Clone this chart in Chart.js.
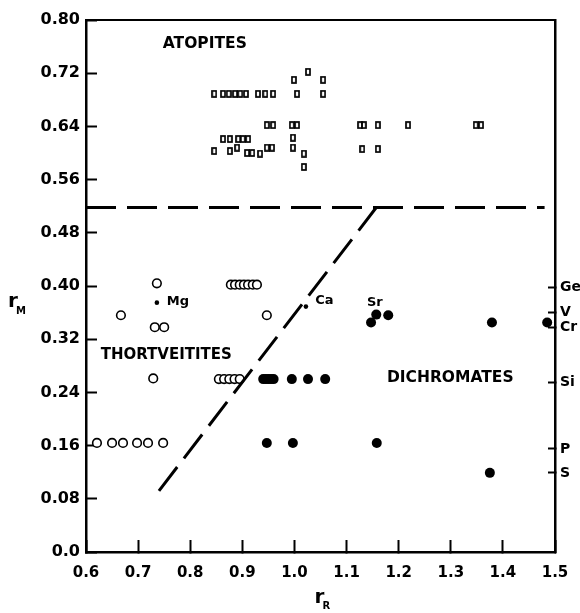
<!DOCTYPE html>
<html>
<head>
<meta charset="utf-8">
<script src="https://cdn.jsdelivr.net/npm/chart.js@4"></script>
<style>
  html, body { margin: 0; padding: 0; background: #fff; }
</style>
</head>
<body>
<canvas id="myChart" width="580" height="613"></canvas>
<script>
// tick labels
const xTickValues = [0.6, 0.7, 0.8, 0.9, 1.0, 1.1, 1.2, 1.3, 1.4, 1.5];
const xTickLabels = ['0.6', '0.7', '0.8', '0.9', '1.0', '1.1', '1.2', '1.3', '1.4', '1.5'];
const yTickValues = [0, 0.08, 0.16, 0.24, 0.32, 0.40, 0.48, 0.56, 0.64, 0.72, 0.80];
const yTickLabels = ['0.0', '0.08', '0.16', '0.24', '0.32', '0.40', '0.48', '0.56', '0.64', '0.72', '0.80'];
// cation radii marked on the right axis
const ionValues = [0.398, 0.360, 0.338, 0.255, 0.155, 0.119];
const ionLabels = ['Ge', 'V', 'Cr', 'Si', 'P', 'S'];

// atopites (squares)
const atopiteR = [1.026, 0.999, 1.055,
    0.846, 0.863, 0.874, 0.886, 0.896, 0.907, 0.930, 0.944, 0.959, 1.005, 1.055,
    0.947, 0.959, 0.995, 1.005, 1.126, 1.133, 1.160, 1.218, 1.348, 1.358,
    0.863, 0.876, 0.892, 0.901, 0.911, 0.997,
    0.846, 0.876, 0.890, 0.909, 0.919, 0.934, 0.947, 0.957, 0.997, 1.018, 1.018, 1.130, 1.160];
const atopiteM = [0.722, 0.710, 0.710,
    0.689, 0.689, 0.689, 0.689, 0.689, 0.689, 0.689, 0.689, 0.689, 0.689, 0.689,
    0.642, 0.642, 0.642, 0.642, 0.642, 0.642, 0.642, 0.642, 0.642, 0.642,
    0.621, 0.621, 0.621, 0.621, 0.621, 0.623,
    0.603, 0.603, 0.608, 0.600, 0.600, 0.599, 0.608, 0.608, 0.608, 0.599, 0.579, 0.606, 0.606];

// thortveitites (open circles)
const thortR = [0.736, 0.667, 0.732, 0.750, 0.947,
    0.878, 0.886, 0.895, 0.903, 0.911, 0.920, 0.928,
    0.729, 0.855, 0.865, 0.875, 0.885, 0.895,
    0.621, 0.650, 0.671, 0.698, 0.719, 0.748];
const thortM = [0.404, 0.356, 0.338, 0.338, 0.356,
    0.402, 0.402, 0.402, 0.402, 0.402, 0.402, 0.402,
    0.261, 0.260, 0.260, 0.260, 0.260, 0.260,
    0.164, 0.164, 0.164, 0.164, 0.164, 0.164];

// dichromates (filled circles)
const dichroR = [0.940, 0.945, 0.950, 0.955, 0.960, 0.995, 1.026, 1.059,
    0.947, 0.997, 1.158, 1.375, 1.147, 1.157, 1.180, 1.379, 1.485];
const dichroM = [0.260, 0.260, 0.260, 0.260, 0.260, 0.260, 0.260, 0.260,
    0.164, 0.164, 0.164, 0.119, 0.345, 0.357, 0.356, 0.345, 0.345];

// Mg and Ca dots
const dotR = [0.736, 1.022];
const dotM = [0.375, 0.369];

// field boundaries
const flatR = [0.6, 1.48];
const flatM = [0.518, 0.518];
const slopeR = [0.740, 1.157];
const slopeM = [0.092, 0.518];

// text on the plot
const regionNames = ['ATOPITES', 'THORTVEITITES', 'DICHROMATES'];
const regionR = [0.828, 0.754, 1.299];
const regionM = [0.764, 0.296, 0.261];
const regionSize = [15.5, 15, 15.5];
const cationNames = ['Mg', 'Ca', 'Sr'];
const cationR = [0.755, 1.040, 1.139];
const cationM = [0.377, 0.378, 0.375];

const pairs = (xs, ys) => xs.map((x, i) => ({x: x, y: ys[i]}));

// tall little square used for the atopites
const sq = document.createElement('canvas');
sq.width = 6;
sq.height = 8;
const sqc = sq.getContext('2d');
sqc.lineWidth = 1.7;
sqc.strokeStyle = '#000';
sqc.strokeRect(1, 1, 4, 6);

Chart.defaults.font.family = 'DejaVu Sans';
Chart.defaults.color = '#000';

// keep the tick label padding from pushing the plot area inwards
const noPad = s => { s.paddingTop = 0; s.paddingBottom = 0; s.paddingLeft = 0; s.paddingRight = 0; };

const textPlugin = {
    id: 'plotText',
    afterDatasetsDraw(chart) {
        const ctx = chart.ctx;
        const xs = chart.scales.x, ys = chart.scales.y;
        ctx.save();
        ctx.fillStyle = '#000';
        ctx.textBaseline = 'middle';
        ctx.textAlign = 'center';
        regionNames.forEach((t, i) => {
            ctx.font = 'bold ' + regionSize[i] + 'px "DejaVu Sans"';
            ctx.fillText(t, xs.getPixelForValue(regionR[i]), ys.getPixelForValue(regionM[i]));
        });
        ctx.textAlign = 'left';
        ctx.font = 'bold 13px "DejaVu Sans"';
        cationNames.forEach((t, i) => {
            ctx.fillText(t, xs.getPixelForValue(cationR[i]), ys.getPixelForValue(cationM[i]));
        });
        // axis titles r_M and r_R
        const a = chart.chartArea;
        ctx.textBaseline = 'alphabetic';
        ctx.font = 'bold 20px "DejaVu Sans"';
        ctx.fillText('r', 8, 307);
        ctx.fillText('r', (a.left + a.right) / 2 - 6, 603);
        ctx.font = 'bold 10px "DejaVu Sans"';
        ctx.fillText('M', 16, 314);
        ctx.fillText('R', (a.left + a.right) / 2 + 2, 609);
        ctx.restore();
    }
};

const lineStyle = {
    showLine: true, borderColor: '#000', borderWidth: 3, borderDash: [30, 11],
    pointRadius: 0, fill: false, xAxisID: 'x', yAxisID: 'y'
};

const data = {
    datasets: [
        Object.assign({label: 'boundary', data: pairs(flatR, flatM)}, lineStyle),
        Object.assign({label: 'boundary 2', data: pairs(slopeR, slopeM)}, lineStyle),
        {
            label: 'Atopites', data: pairs(atopiteR, atopiteM), pointStyle: sq,
            xAxisID: 'x', yAxisID: 'y'
        },
        {
            label: 'Thortveitites', data: pairs(thortR, thortM), pointStyle: 'circle',
            pointRadius: 4.3, backgroundColor: '#fff', borderColor: '#000', borderWidth: 1.6,
            xAxisID: 'x', yAxisID: 'y'
        },
        {
            label: 'Dichromates', data: pairs(dichroR, dichroM), pointStyle: 'circle',
            pointRadius: 5, backgroundColor: '#000', borderColor: '#000', borderWidth: 0,
            xAxisID: 'x', yAxisID: 'y'
        },
        {
            label: 'Mg, Ca', data: pairs(dotR, dotM), pointStyle: 'circle',
            pointRadius: 2.3, backgroundColor: '#000', borderColor: '#000', borderWidth: 0,
            xAxisID: 'x', yAxisID: 'y'
        }
    ]
};

const config = {
    type: 'scatter',
    data: data,
    plugins: [textPlugin],
    options: {
        responsive: false,
        animation: false,
        events: [],
        layout: {padding: 0},
        plugins: {legend: {display: false}, tooltip: {enabled: false}},
        scales: {
            x: {
                type: 'linear', position: 'bottom', min: 0.6, max: 1.5,
                afterBuildTicks: s => { s.ticks = xTickValues.map(v => ({value: v})); },
                afterFit: s => { s.height = 61; noPad(s); },
                border: {color: '#000', width: 2.5},
                grid: {drawOnChartArea: false, tickLength: -12, tickWidth: 2, tickColor: '#000'},
                ticks: {
                    callback: (v, i) => xTickLabels[i], autoSkip: false, maxRotation: 0,
                    font: {size: 15, weight: 'bold'}, padding: 24
                }
            },
            x2: {
                type: 'linear', position: 'top', min: 0.6, max: 1.5,
                afterFit: s => { s.height = 20; noPad(s); },
                border: {color: '#000', width: 2},
                grid: {drawOnChartArea: false, drawTicks: false},
                ticks: {display: false}
            },
            y: {
                type: 'linear', position: 'left', min: 0, max: 0.8,
                afterBuildTicks: s => { s.ticks = yTickValues.map(v => ({value: v})); },
                afterFit: s => { s.width = 86; noPad(s); },
                border: {color: '#000', width: 2.5},
                grid: {drawOnChartArea: false, tickLength: -11, tickWidth: 2, tickColor: '#000'},
                ticks: {
                    callback: (v, i) => yTickLabels[i], autoSkip: false,
                    font: {size: 16, weight: 'bold'}, padding: 17
                }
            },
            y2: {
                type: 'linear', position: 'right', min: 0, max: 0.8,
                afterBuildTicks: s => { s.ticks = ionValues.map(v => ({value: v})); },
                afterFit: s => { s.width = 25; noPad(s); },
                border: {color: '#000', width: 2.5},
                grid: {drawOnChartArea: false, tickLength: -7, tickWidth: 2, tickColor: '#000'},
                ticks: {
                    callback: (v, i) => ionLabels[i], autoSkip: false,
                    font: {size: 14, weight: 'bold'}, padding: 12
                }
            }
        }
    }
};

const myChart = new Chart(document.getElementById('myChart'), config);
</script>
</body>
</html>
